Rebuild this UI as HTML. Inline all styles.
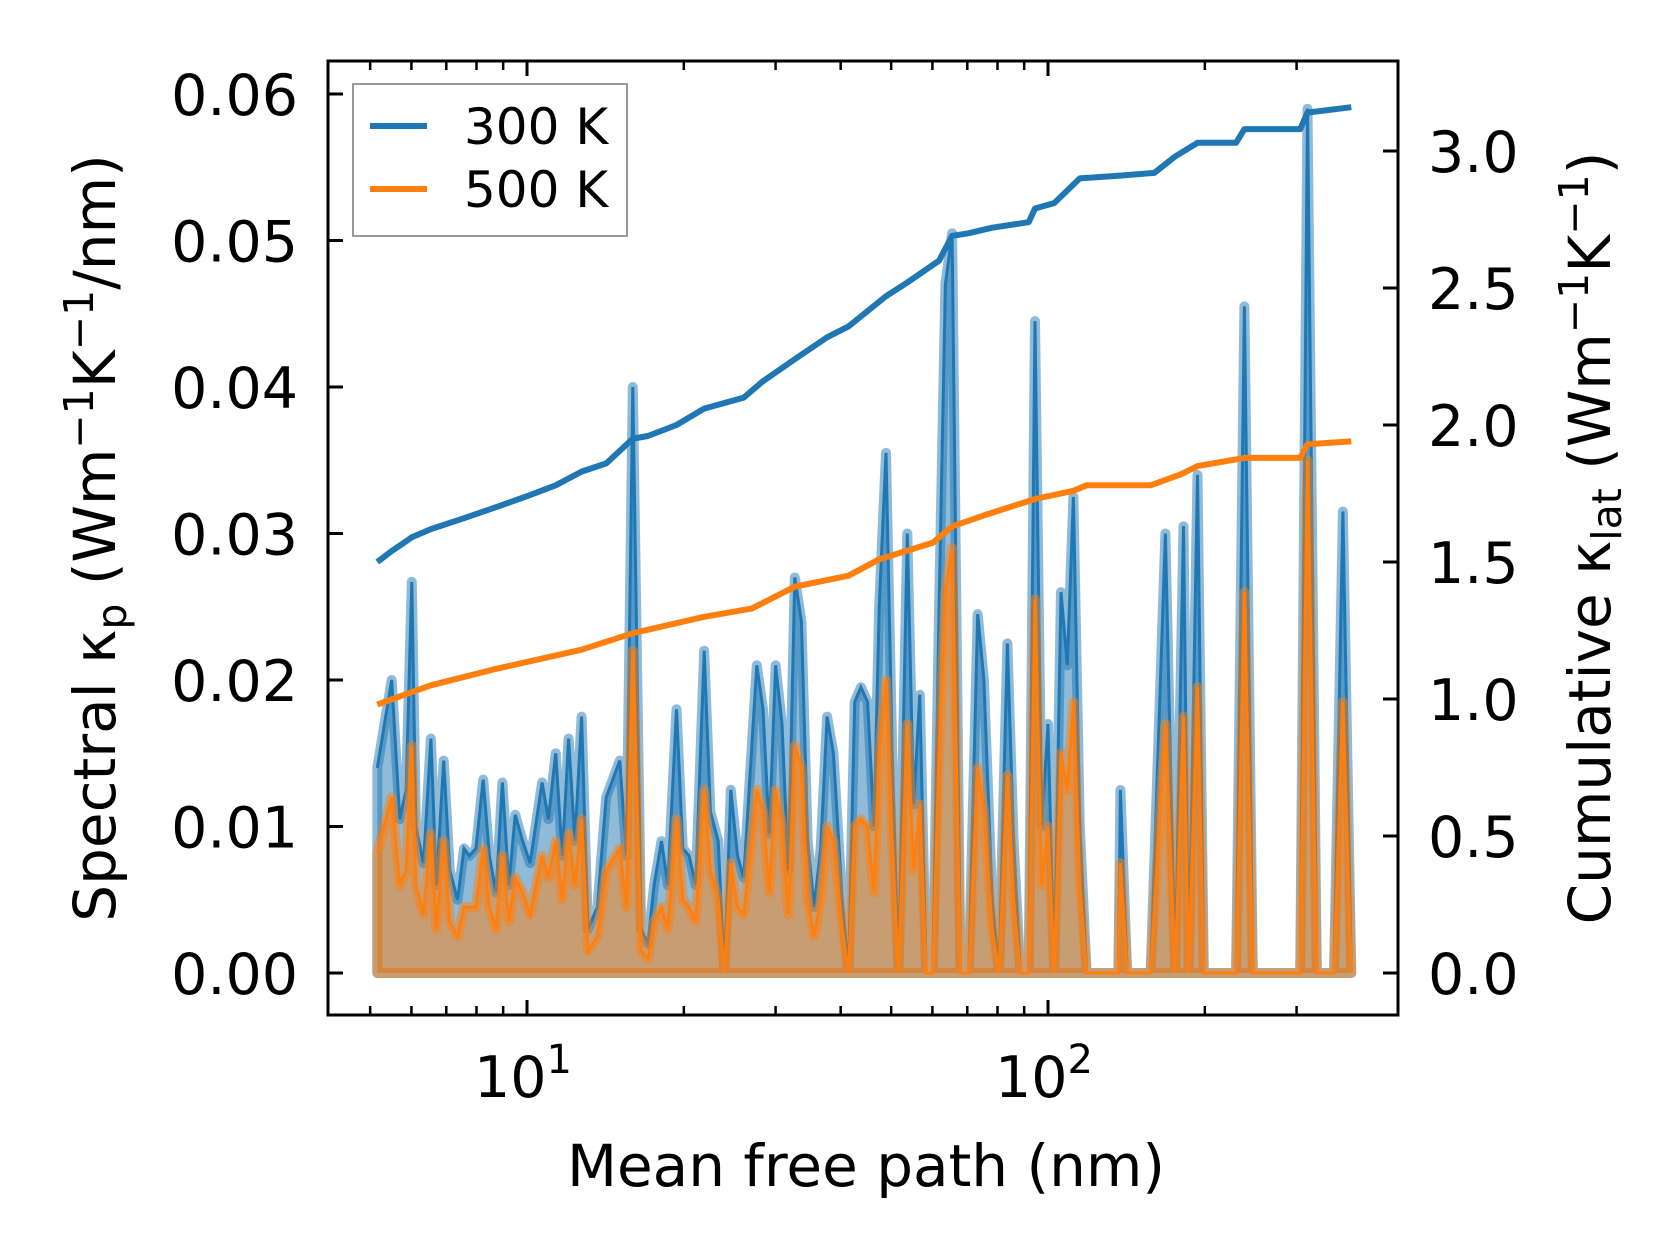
<!DOCTYPE html>
<html><head><meta charset="utf-8"><style>
html,body{margin:0;padding:0;background:#fff;}
svg{display:block;font-family:"DejaVu Sans","Liberation Sans",sans-serif;}
</style></head><body>
<svg id="chart" width="1679" height="1254" viewBox="0 0 1679 1254" xmlns="http://www.w3.org/2000/svg">
<g id="plot"></g>
<g id="axes"></g>
</svg>
<script>
const mfp = [5.16,5.50,5.70,5.86,6.01,6.12,6.33,6.54,6.70,6.92,7.11,7.36,7.57,7.75,7.98,8.24,8.47,8.72,8.97,9.23,9.49,9.81,10.14,10.69,10.99,11.35,11.69,12.02,12.36,12.73,13.09,13.65,14.19,15.07,15.52,15.96,16.56,17.06,17.54,18.12,18.63,19.36,19.91,20.47,21.08,21.88,22.49,23.28,23.93,24.61,25.35,26.06,27.61,28.38,29.18,30.00,30.87,31.74,32.66,33.63,34.58,35.56,36.62,37.67,38.73,40.27,41.40,42.56,43.75,45.06,46.35,47.43,48.87,50.23,51.64,53.70,55.21,56.75,58.34,60.10,61.80,63.53,65.46,67.92,70.47,73.28,75.34,78.16,80.54,83.56,85.90,88.51,91.83,94.41,97.27,100,102.8,105.9,108.9,111.9,115.1,118.6,136.5,137.7,141.9,157.4,168.0,175.4,182.0,186.2,193.6,199.1,229.6,238.2,247.2,304.8,314.8,328.1,354.0,368.1,382.0];
const spec300 = [0.0140,0.0200,0.0105,0.0125,0.0267,0.0100,0.0075,0.0160,0.0060,0.0145,0.0070,0.0050,0.0085,0.0080,0.0085,0.0132,0.0080,0.0055,0.0130,0.0060,0.0108,0.0090,0.0075,0.0130,0.0105,0.0150,0.0080,0.0160,0.0090,0.0175,0.0030,0.0045,0.0120,0.0145,0.0080,0.0400,0.0030,0.0020,0.0060,0.0090,0.0060,0.0180,0.0085,0.0080,0.0060,0.0220,0.0110,0.0090,0.0000,0.0125,0.0080,0.0065,0.0210,0.0180,0.0095,0.0210,0.0170,0.0070,0.0270,0.0240,0.0090,0.0045,0.0085,0.0175,0.0150,0.0050,0.0000,0.0185,0.0195,0.0185,0.0100,0.0250,0.0355,0.0150,0.0000,0.0300,0.0115,0.0190,0.0000,0.0000,0.0250,0.0470,0.0505,0.0000,0.0000,0.0245,0.0200,0.0050,0.0000,0.0225,0.0090,0.0000,0.0000,0.0445,0.0100,0.0170,0.0000,0.0260,0.0210,0.0325,0.0100,0.0000,0.0000,0.0125,0.0000,0.0000,0.0300,0.0000,0.0305,0.0000,0.0340,0.0000,0.0000,0.0455,0.0000,0.0000,0.0590,0.0000,0.0000,0.0315,0.0000];
const spec500 = [0.0082,0.0120,0.0060,0.0070,0.0155,0.0060,0.0040,0.0095,0.0030,0.0090,0.0035,0.0025,0.0045,0.0045,0.0045,0.0085,0.0045,0.0030,0.0080,0.0035,0.0065,0.0055,0.0040,0.0080,0.0065,0.0090,0.0050,0.0095,0.0060,0.0105,0.0015,0.0025,0.0070,0.0085,0.0045,0.0220,0.0015,0.0010,0.0035,0.0045,0.0030,0.0105,0.0050,0.0045,0.0035,0.0125,0.0070,0.0050,0.0000,0.0075,0.0045,0.0040,0.0125,0.0110,0.0055,0.0125,0.0100,0.0040,0.0155,0.0140,0.0050,0.0025,0.0050,0.0100,0.0090,0.0030,0.0000,0.0100,0.0105,0.0100,0.0055,0.0150,0.0200,0.0090,0.0000,0.0170,0.0070,0.0115,0.0000,0.0000,0.0150,0.0260,0.0290,0.0000,0.0000,0.0140,0.0110,0.0030,0.0000,0.0135,0.0050,0.0000,0.0000,0.0255,0.0060,0.0100,0.0000,0.0150,0.0125,0.0185,0.0060,0.0000,0.0000,0.0075,0.0000,0.0000,0.0170,0.0000,0.0175,0.0000,0.0195,0.0000,0.0000,0.0260,0.0000,0.0000,0.0350,0.0000,0.0000,0.0185,0.0000];
const cumMfp300 = [5.16,5.50,5.70,6.01,6.54,7.57,8.72,10.0,11.35,12.73,14.19,15.96,17.06,19.36,21.88,26.06,28.38,32.66,37.67,41.40,48.87,53.70,61.80,65.46,70.47,78.16,91.83,94.41,102.8,115.1,136.5,160,175.4,193.6,229.6,238.2,304.8,314.8,382];
const cum300 = [1.50,1.54,1.56,1.59,1.62,1.66,1.70,1.74,1.78,1.83,1.86,1.95,1.96,2.00,2.06,2.10,2.16,2.24,2.32,2.36,2.47,2.52,2.60,2.69,2.70,2.72,2.74,2.79,2.81,2.90,2.91,2.92,2.98,3.03,3.03,3.08,3.08,3.14,3.16];
const cumMfp500 = [5.16,6.54,8.72,12.73,15.96,21.88,27.0,32.66,41.40,47.43,60.10,65.46,75.34,94.41,111.9,118.6,157.4,180,193.6,238.2,304.8,314.8,382];
const cum500 = [0.98,1.05,1.11,1.18,1.24,1.30,1.33,1.41,1.45,1.51,1.57,1.63,1.67,1.73,1.76,1.78,1.78,1.82,1.85,1.88,1.88,1.93,1.94];
const leftTicks = [0,0.01,0.02,0.03,0.04,0.05,0.06];
const leftTickLabels = ["0.00","0.01","0.02","0.03","0.04","0.05","0.06"];
const rightTicks = [0,0.5,1,1.5,2,2.5,3];
const rightTickLabels = ["0.0","0.5","1.0","1.5","2.0","2.5","3.0"];

const NS="http://www.w3.org/2000/svg";
const L=328,R=1398,T=61,B=1015;
const X=m=>527+521*(Math.log10(m)-1);
const YL=v=>973-v*14650;
const YR=v=>973-v*274;
function mk(tag,attrs,parent){const e=document.createElementNS(NS,tag);for(const k in attrs)e.setAttribute(k,attrs[k]);parent.appendChild(e);return e;}
const plot=document.getElementById('plot'), axes=document.getElementById('axes');

function areaPath(xs,ys){let d='M'+X(xs[0]).toFixed(1)+','+YL(0).toFixed(1);xs.forEach((m,i)=>{d+='L'+X(m).toFixed(1)+','+YL(ys[i]).toFixed(1);});d+='L'+X(xs[xs.length-1]).toFixed(1)+','+YL(0).toFixed(1)+'Z';return d;}
function linePath(xs,ys,f){return xs.map((m,i)=>(i?'L':'M')+X(m).toFixed(1)+','+f(ys[i]).toFixed(1)).join('');}

const a3=mk('path',{d:areaPath(mfp,spec300),fill:'#1f77b4','fill-opacity':0.5,stroke:'#1f77b4','stroke-opacity':0.5,'stroke-width':10,'stroke-linejoin':'round'},plot);


const l3=mk('path',{d:linePath(mfp,spec300,YL),fill:'none',stroke:'#1f77b4','stroke-width':3},plot);


const a5=mk('path',{d:areaPath(mfp,spec500),fill:'#ff7f0e','fill-opacity':0.5,stroke:'#ff7f0e','stroke-opacity':0.5,'stroke-width':10,'stroke-linejoin':'round'},plot);


const l5=mk('path',{d:linePath(mfp,spec500,YL),fill:'none',stroke:'#ff7f0e','stroke-width':3},plot);


const c3=mk('path',{d:linePath(cumMfp300,cum300,YR),fill:'none',stroke:'#1f77b4','stroke-width':6,'stroke-linejoin':'round'},plot);


const c5=mk('path',{d:linePath(cumMfp500,cum500,YR),fill:'none',stroke:'#ff7f0e','stroke-width':6,'stroke-linejoin':'round'},plot);



const fr=mk('rect',{x:L,y:T,width:R-L,height:B-T,fill:'none',stroke:'#000','stroke-width':3},axes);


leftTicks.forEach((v,i)=>{const y=YL(v);
 mk('line',{x1:L,x2:L+15,y1:y,y2:y,stroke:'#000','stroke-width':3},axes);
 const t=mk('text',{x:L-30,y:y+21,'font-size':57,'text-anchor':'end'},axes);t.textContent=leftTickLabels[i];
 
 
});
rightTicks.forEach((v,i)=>{const y=YR(v);
 mk('line',{x1:R,x2:R-15,y1:y,y2:y,stroke:'#000','stroke-width':3},axes);
 const t=mk('text',{x:R+30,y:y+21,'font-size':57,'text-anchor':'start'},axes);t.textContent=rightTickLabels[i];
 
 
});
[10,100].forEach(m=>{const x=X(m);[B,T].forEach(yy=>{mk('line',{x1:x,x2:x,y1:yy,y2:yy+(yy===B?-15:15),stroke:'#000','stroke-width':3},axes);});});
[5,6,7,8,9,20,30,40,50,60,70,80,90,200,300].forEach(m=>{const x=X(m);[B,T].forEach(yy=>{mk('line',{x1:x,x2:x,y1:yy,y2:yy+(yy===B?-9:9),stroke:'#000','stroke-width':2.5},axes);});});
[[10,'1'],[100,'2']].forEach(([m,e])=>{const t=mk('text',{x:X(m)-4,y:1097,'font-size':57,'text-anchor':'middle'},axes);
 t.innerHTML='10<tspan dy="-24" font-size="40">'+e+'</tspan>';
 
 
});
</script>
<svg style="position:absolute;left:0;top:0" width="1679" height="1254" viewBox="0 0 1679 1254">
<text x="866" y="1186" font-size="58" text-anchor="middle" font-family="DejaVu Sans, Liberation Sans, sans-serif">Mean free path (nm)</text>
<text transform="translate(115,538) rotate(-90)" font-size="58" text-anchor="middle" font-family="DejaVu Sans, Liberation Sans, sans-serif">Spectral κ<tspan dy="11" font-size="41">p</tspan><tspan dy="-11"> (Wm</tspan><tspan dy="-22" font-size="41">−1</tspan><tspan dy="22">K</tspan><tspan dy="-22" font-size="41">−1</tspan><tspan dy="22">/nm)</tspan></text>
<text transform="translate(1610,538) rotate(-90)" font-size="58" text-anchor="middle" font-family="DejaVu Sans, Liberation Sans, sans-serif">Cumulative κ<tspan dy="11" font-size="41">lat</tspan><tspan dy="-11"> (Wm</tspan><tspan dy="-22" font-size="41">−1</tspan><tspan dy="22">K</tspan><tspan dy="-22" font-size="41">−1</tspan><tspan dy="22">)</tspan></text>
<g>
<rect x="353" y="84" width="274" height="152" fill="#fff" fill-opacity="0.8" stroke="#999" stroke-width="2"/>
<line x1="370" x2="427" y1="126" y2="126" stroke="#1f77b4" stroke-width="6"/>
<text x="464" y="144" font-size="50" font-family="DejaVu Sans, Liberation Sans, sans-serif">300 K</text>
<line x1="370" x2="427" y1="189" y2="189" stroke="#ff7f0e" stroke-width="6"/>
<text x="464" y="207" font-size="50" font-family="DejaVu Sans, Liberation Sans, sans-serif">500 K</text>
</g>
</svg>
</body></html>
